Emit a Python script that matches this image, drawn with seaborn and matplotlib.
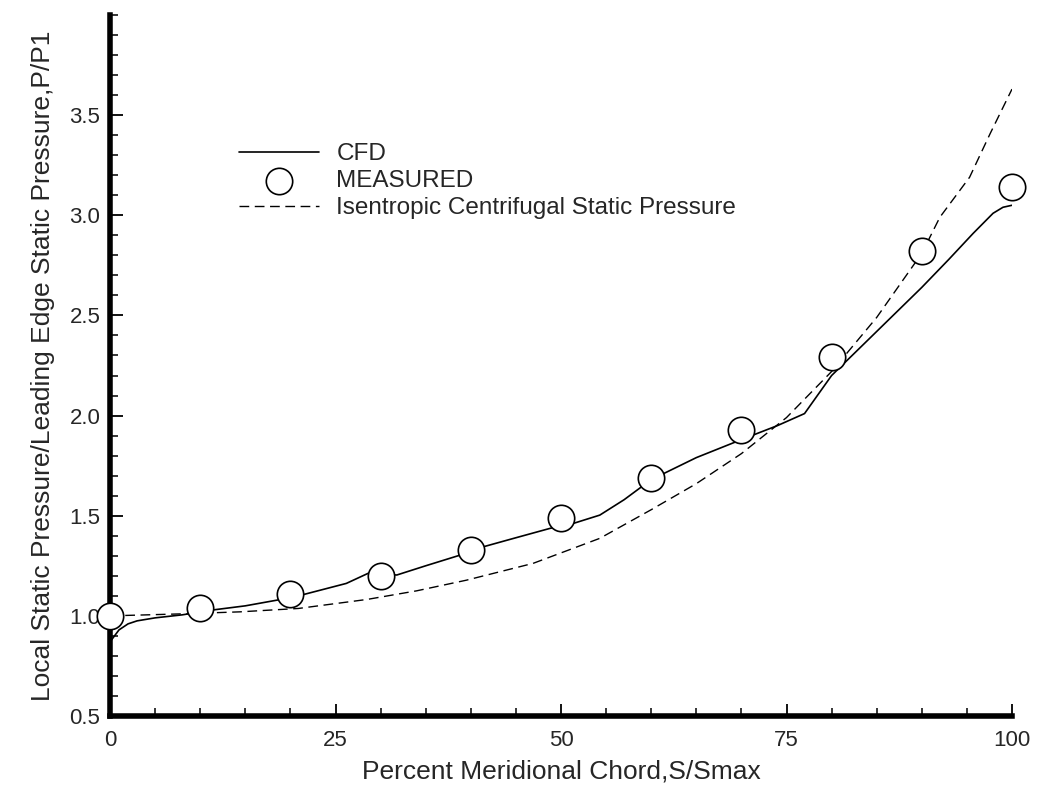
import numpy as np
import pandas as pd
from matplotlib import pyplot as plt
from matplotlib.ticker import MultipleLocator
import seaborn as sns

# measured points
meas_x = [0, 10, 20, 30, 40, 50, 60, 70, 80, 90, 100]
meas_p = [1.00, 1.04, 1.11, 1.20, 1.33, 1.49, 1.69, 1.93, 2.29, 2.82, 3.14]

# CFD curve
cfd_x = [0, 0.5, 1, 2, 3, 5, 8, 11.5, 15, 18.7, 21.5, 26.2, 28.6, 31.8, 35, 38.8, 41.4,
         45, 48.8, 51.4, 54.3, 57, 60, 65, 70, 74, 77, 80, 85, 90, 93, 95.7, 97.9, 99, 100]
cfd_p = [0.87, 0.90, 0.93, 0.96, 0.975, 0.99, 1.005, 1.03, 1.05, 1.08, 1.107, 1.162, 1.212,
         1.204, 1.25, 1.303, 1.345, 1.39, 1.437, 1.462, 1.503, 1.58, 1.68, 1.79, 1.88, 1.95,
         2.01, 2.20, 2.42, 2.64, 2.78, 2.91, 3.01, 3.04, 3.05]

# isentropic centrifugal static pressure
ise_x = [0, 3.3, 8, 14.4, 20.9, 28.5, 34, 39.5, 46.9, 54.3, 60, 65, 70, 75, 80, 85, 90, 92,
         95.3, 97.6, 100]
ise_p = [1.00, 1.004, 1.01, 1.02, 1.037, 1.082, 1.125, 1.178, 1.262, 1.387, 1.53, 1.66,
         1.81, 1.99, 2.22, 2.49, 2.81, 2.99, 3.19, 3.41, 3.63]

sns.set_style("ticks")
plt.rcParams['font.family'] = ['Liberation Sans', 'DejaVu Sans']

fig = plt.figure(figsize=(10.39, 7.97), dpi=100)
ax = fig.add_axes([110/1039, 1 - 716/797, 902/1039, 701/797])

cfd = pd.DataFrame({'x': cfd_x, 'p': cfd_p})
ise = pd.DataFrame({'x': ise_x, 'p': ise_p})
meas = pd.DataFrame({'x': meas_x, 'p': meas_p})

sns.lineplot(data=cfd, x='x', y='p', ax=ax, color='black', lw=1.2, label='CFD', sort=False)
sns.scatterplot(data=meas, x='x', y='p', ax=ax, s=19**2, marker='o', facecolor='white',
                edgecolor='black', linewidth=1.2, label='MEASURED', zorder=5, clip_on=False)
sns.lineplot(data=ise, x='x', y='p', ax=ax, color='black', lw=1.0, dashes=False,
             label='Isentropic Centrifugal Static Pressure', sort=False)
ax.lines[-1].set_dashes([7, 4])

ax.set_xlim(0, 100)
ax.set_ylim(0.5, 4.0)
ax.xaxis.set_major_locator(MultipleLocator(25))
ax.xaxis.set_minor_locator(MultipleLocator(5))
ax.set_yticks([0.5, 1.0, 1.5, 2.0, 2.5, 3.0, 3.5])
ax.yaxis.set_minor_locator(MultipleLocator(0.1))
ax.set_yticklabels(['0.5', '1.0', '1.5', '2.0', '2.5', '3.0', '3.5'])
ax.tick_params(which='major', direction='in', length=9, width=1.3, labelsize=16, color='black')
ax.tick_params(axis='x', which='major', pad=10)
ax.tick_params(axis='y', which='major', pad=7)
ax.tick_params(which='minor', direction='in', length=6, width=1.1, color='black')

sns.despine(ax=ax)
for s in ['left', 'bottom']:
    ax.spines[s].set_linewidth(4)
    ax.spines[s].set_color('black')

ax.set_xlabel('Percent Meridional Chord,S/Smax', fontsize=19, labelpad=6)
ax.set_ylabel('Local Static Pressure/Leading Edge Static Pressure,P/P1', fontsize=19, labelpad=10)

ax.legend(loc='upper left', bbox_to_anchor=(0.119, 0.848), frameon=False, fontsize=17.5,
          handlelength=3.3, handletextpad=0.7, labelspacing=0.2, markerscale=1.0)

fig.savefig('out.png', dpi=100)
